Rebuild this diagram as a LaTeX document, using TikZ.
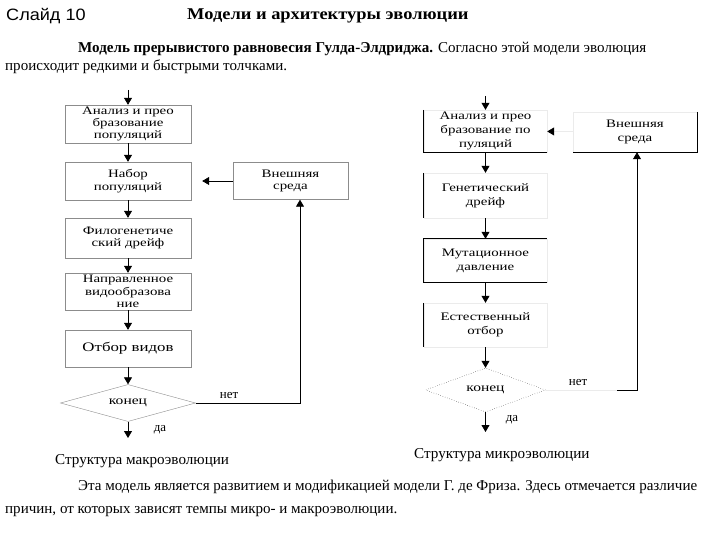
\documentclass[tikz,border=0pt]{standalone}
\usepackage{fontspec}
\setmainfont{Liberation Serif}
\newfontfamily\slidefont[FakeStretch=1.1]{Liberation Sans}
\newfontfamily\titlefont[FakeStretch=1.12]{Liberation Serif}
\newfontfamily\boxfont[FakeStretch=1.3]{Liberation Serif}
\usetikzlibrary{arrows.meta,shapes.geometric}

\begin{document}
\begin{tikzpicture}[x=1bp,y=-1bp,
  >={Triangle[length=7bp,width=8bp]},
  textline/.style={anchor=base west, inner sep=0pt},
  macrobox/.style={draw=boxborder, fill=white, minimum width=126bp, align=center,
    inner sep=1bp, font=\boxfont\fontsize{11.5}{12.5}\selectfont},
  microbox/.style={draw=faintline, fill=white, minimum width=123bp, align=center,
    inner sep=1bp, font=\boxfont\fontsize{11.5}{14}\selectfont},
  choice/.style={diamond, aspect=3.6, inner sep=1bp, align=center,
    font=\boxfont\fontsize{12}{12}\selectfont},
  edge/.style={draw=black, line width=0.8bp},
  flow/.style={->, line width=0.8bp}]
  % Define colors
  \colorlet{boxborder}{black!45}
  \colorlet{faintline}{black!8}

  \useasboundingbox (0,0) rectangle (720,540);

  % Header and text
  \node[textline, font=\slidefont\fontsize{16.5}{16.5}\selectfont] (slide) at (6,21) {Слайд 10};
  \node[textline, font=\titlefont\bfseries\fontsize{16.5}{16.5}\selectfont] (title) at (187,20) {Модели и архитектуры эволюции};
  \node[textline, font=\fontsize{15.1}{15}\selectfont] (introa) at (78,53)
    {\textbf{Модель прерывистого равновесия Гулда-Элдриджа.} Согласно этой модели эволюция};
  \node[textline, font=\fontsize{15.1}{15}\selectfont] (introb) at (5,71) {происходит редкими и быстрыми толчками.};

  % Macroevolution
  \coordinate (macstart) at (128,90);
  \node[macrobox, minimum height=38bp] (macanalysis) at (128,124) {Анализ и прео\\бразование\\популяций};
  \node[macrobox, minimum height=38bp] (macset) at (128,181) {Набор\\популяций};
  \node[macrobox, minimum height=40bp] (macdrift) at (128,238) {Филогенетиче\\ский дрейф};
  \node[macrobox, minimum height=37bp] (macspec) at (128,291.5) {Направленное\\видообразова\\ние};
  \node[macrobox, minimum height=37bp, font=\boxfont\fontsize{13}{13}\selectfont] (macselect) at (128,348.5) {Отбор видов};
  \node[choice, draw=boxborder, minimum width=135bp, minimum height=37bp] (macend) at (128,403) {конец};
  \coordinate (macstop) at (128,438);
  \node[macrobox, minimum width=115bp, minimum height=37bp] (macenv) at (290.5,181) {Внешняя\\среда};
  \coordinate (macturn) at (300,403);

  \draw[flow] (macstart) -- (macanalysis);
  \draw[flow] (macanalysis) -- (macset);
  \draw[flow] (macset) -- (macdrift);
  \draw[flow] (macdrift) -- (macspec);
  \draw[flow] (macspec) -- (macselect);
  \draw[flow] (macselect) -- (macend);
  \draw[flow] (macend) -- (macstop);
  \draw[flow, shorten >=11bp] (macenv) -- (macset);
  \draw[flow] (macend.east) -- (macturn) -- (macturn |- macenv.south);
  \node[font=\fontsize{13}{13}\selectfont, inner sep=0pt] (macno) at (229,396) {нет};
  \node[font=\fontsize{13}{13}\selectfont, inner sep=0pt] (macyes) at (160,430) {да};
  \node[textline, font=\fontsize{15.2}{15}\selectfont] (maccaption) at (55,464) {Структура макроэволюции};

  % Microevolution
  \coordinate (micstart) at (485.5,96);
  \node[microbox, minimum height=42bp] (micanalysis) at (485.5,131) {Анализ и прео\\бразование по\\пуляций};
  \node[microbox, minimum height=45bp] (micdrift) at (485.5,195.5) {Генетический\\дрейф};
  \node[microbox, minimum height=43bp] (micmutate) at (485.5,260.5) {Мутационное\\давление};
  \node[microbox, minimum height=44bp] (micselect) at (485.5,325) {Естественный\\отбор};
  \node[choice, draw=black, dotted, minimum width=120bp, minimum height=44bp] (micend) at (485.5,390) {конец};
  \coordinate (micstop) at (485.5,432);
  \node[microbox, minimum width=124bp, minimum height=40bp] (micenv) at (635,132) {Внешняя\\среда};
  \coordinate (micgap) at (617,390);
  \coordinate (micturn) at (637,390);

  % visible box edges
  \draw[edge] (micanalysis.north west) -- (micanalysis.south west) -- (micanalysis.south east);
  \draw[edge] (micdrift.north west) -- (micdrift.south west);
  \draw[edge] (micmutate.south east) -- (micmutate.south west) -- (micmutate.north west) -- (micmutate.north east);
  \draw[edge] (micselect.north west) -- (micselect.south west);
  \draw[edge] (micenv.north east) -- (micenv.south east) -- (micenv.south west);

  \draw[flow] (micstart) -- (micanalysis);
  \draw[flow] (micanalysis) -- (micdrift);
  \draw[flow] (micdrift) -- (micmutate);
  \draw[flow] (micmutate) -- (micselect);
  \draw[flow] (micselect) -- (micend);
  \draw[flow] (micend) -- (micstop);
  \draw[faintline, line width=0.8bp, -{Triangle[length=7bp,width=8bp,color=black]}] (micenv) -- (micanalysis);
  \draw[faintline, line width=0.8bp] (micend.east) -- (micgap);
  \draw[flow] (micgap) -- (micturn) -- (micturn |- micenv.south);
  \node[font=\fontsize{13}{13}\selectfont, inner sep=0pt] (micno) at (578,383) {нет};
  \node[font=\fontsize{13}{13}\selectfont, inner sep=0pt] (micyes) at (512,420) {да};
  \node[textline, font=\fontsize{15.2}{15}\selectfont] (miccaption) at (414,458) {Структура микроэволюции};

  % Closing text
  \node[textline, font=\fontsize{15.1}{15}\selectfont] (outroa) at (78,490)
    {Эта модель является развитием и модификацией модели Г. де Фриза. Здесь отмечается различие};
  \node[textline, font=\fontsize{15.1}{15}\selectfont] (outrob) at (5,513) {причин, от которых зависят темпы микро- и макроэволюции.};
\end{tikzpicture}
\end{document}
